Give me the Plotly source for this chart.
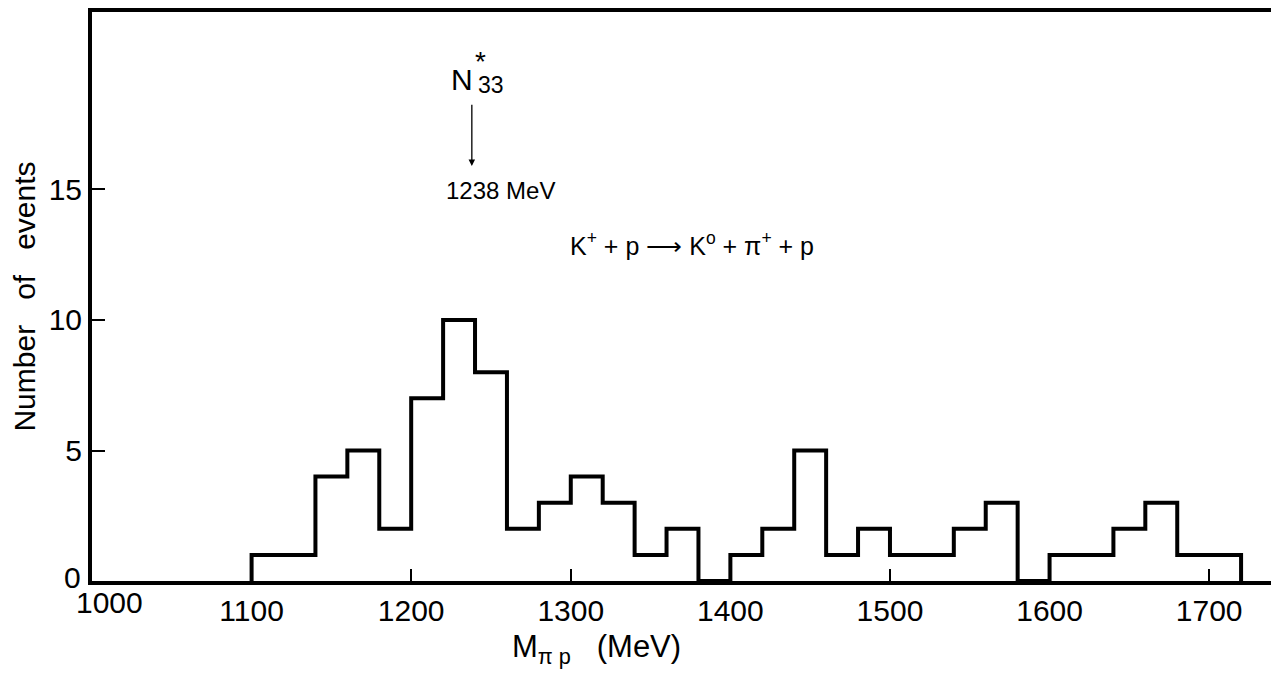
import plotly.graph_objects as go

# histogram of M(pi p), 20 MeV bins
bin_low = [1100, 1120, 1140, 1160, 1180, 1200, 1220, 1240, 1260, 1280,
           1300, 1320, 1340, 1360, 1380, 1400, 1420, 1440, 1460, 1480,
           1500, 1520, 1540, 1560, 1580, 1600, 1620, 1640, 1660, 1680, 1700]
counts = [1, 1, 4, 5, 2, 7, 10, 8, 2, 3,
          4, 3, 1, 2, 0, 1, 2, 5, 1, 2,
          1, 1, 2, 3, 0, 1, 1, 2, 3, 1, 1]
bin_width = 20

x_ticks = [1000, 1100, 1200, 1300, 1400, 1500, 1600, 1700]
x_ticktext = ["", "1100", "1200", "1300", "1400", "1500", "1600", "1700"]
y_ticks = [0, 5, 10, 15]
y_ticktext = ["", "5", "10", "15"]

FONT = "Liberation Sans, Arial, sans-serif"

# step outline: start at zero, hv steps, close back to zero
step_x = [bin_low[0]] + bin_low + [bin_low[-1] + bin_width, bin_low[-1] + bin_width]
step_y = [0] + counts + [counts[-1], 0]

fig = go.Figure()
fig.add_trace(go.Scatter(
    x=step_x, y=step_y, mode="lines",
    line=dict(color="black", width=4, shape="hv"),
    showlegend=False, hoverinfo="skip",
))

fig.update_layout(
    width=1271, height=667,
    margin=dict(l=84, r=6, t=0, b=94),
    paper_bgcolor="white", plot_bgcolor="white",
    font=dict(family=FONT, color="black"),
    xaxis=dict(
        range=[1000, 1740], tickvals=x_ticks, ticktext=x_ticktext,
        showgrid=False, zeroline=False,
        ticks="inside", ticklen=12, tickwidth=1.5, tickcolor="black",
        showline=True, mirror=True, linewidth=4, linecolor="black",
        tickfont=dict(size=30, family=FONT),
    ),
    yaxis=dict(
        range=[0, 21.8], tickvals=y_ticks, ticktext=y_ticktext,
        showgrid=False, zeroline=False,
        ticks="inside", ticklen=13, tickwidth=1.5, tickcolor="black",
        showline=True, mirror=True, linewidth=4, linecolor="black",
        tickfont=dict(size=30, family=FONT),
        title=dict(text="Number   of   events", font=dict(size=30, family=FONT), standoff=12),
    ),
)

# corner labels "0" and "1000", nudged apart as in the original figure
fig.add_annotation(x=1000, y=0, xshift=-20, yshift=4, text="0", showarrow=False,
                   font=dict(size=30, family=FONT), xanchor="center", yanchor="middle")
fig.add_annotation(x=1011, y=0, yshift=-21, text="1000", showarrow=False,
                   font=dict(size=30, family=FONT), xanchor="center", yanchor="middle")
# x-axis title
fig.add_annotation(x=1316, y=0, yshift=-68, text="M<sub>π p</sub>   (MeV)", showarrow=False,
                   font=dict(size=31, family=FONT), xanchor="center", yanchor="middle")

# N*33 resonance marker (star stacked over the subscript)
fig.add_annotation(x=1232, y=19.2, text="N", showarrow=False,
                   font=dict(size=30, family=FONT), xanchor="center", yanchor="middle")
fig.add_annotation(x=1243.5, y=19.9, text="*", showarrow=False,
                   font=dict(size=28, family=FONT), xanchor="center", yanchor="middle")
fig.add_annotation(x=1250, y=19.0, text="33", showarrow=False,
                   font=dict(size=23, family=FONT), xanchor="center", yanchor="middle")
fig.add_annotation(x=1238, y=15.9, ax=1238, ay=18.3, xref="x", yref="y",
                   axref="x", ayref="y", text="", showarrow=True,
                   arrowhead=2, arrowsize=1, arrowwidth=1.3, arrowcolor="black")
fig.add_annotation(x=1256, y=14.95, text="1238 MeV", showarrow=False,
                   font=dict(size=24, family=FONT), xanchor="center", yanchor="middle")
fig.add_annotation(x=1376, y=12.9, text="K<sup>+</sup> + p ⟶ K<sup>o</sup> + π<sup>+</sup> + p",
                   showarrow=False, font=dict(size=25, family=FONT),
                   xanchor="center", yanchor="middle")

fig.write_html("out.html")
